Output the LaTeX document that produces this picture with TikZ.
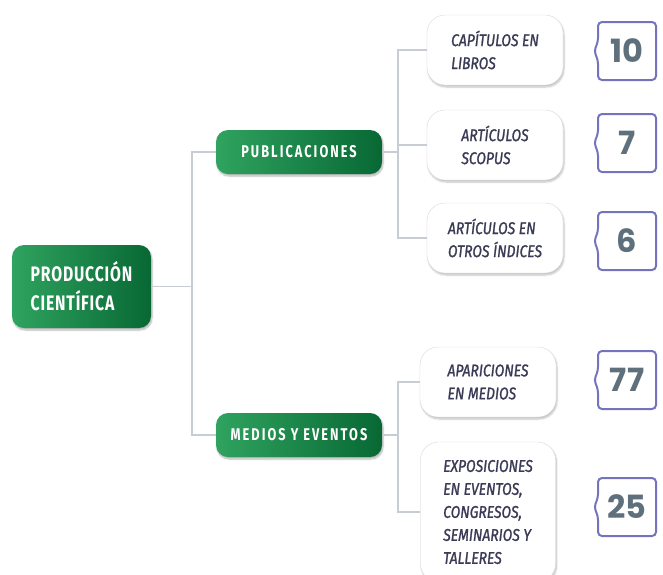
\documentclass[tikz,border=0pt]{standalone}
\usepackage{fontspec}
\usetikzlibrary{calc}
\usetikzlibrary{shadows.blur}
\newfontfamily\headfont{Fira Sans}[FakeStretch=0.75, LetterSpace=4]
\newfontfamily\subfont{Fira Sans}[FakeStretch=0.75, LetterSpace=12]
\newfontfamily\leaffont{Fira Sans}[FakeStretch=0.82, FakeBold=1.2]
\newfontfamily\numfont{Poppins}
\definecolor{greenlight}{RGB}{47,163,95}
\definecolor{greendark}{RGB}{8,104,52}
\definecolor{linkgray}{RGB}{200,205,212}
\definecolor{leafink}{RGB}{58,58,85}
\definecolor{badgeline}{RGB}{116,116,190}
\definecolor{badgeink}{RGB}{95,112,125}
\tikzset{
	greenbox/.style={rounded corners=12pt, left color=greenlight, right color=greendark, text=white,
		blur shadow={shadow xshift=1pt, shadow yshift=-2pt, shadow opacity=30, shadow blur steps=6}},
	rootbox/.style={greenbox, minimum width=139pt, minimum height=83pt, align=left,
		font=\headfont\bfseries\fontsize{21}{29}\selectfont},
	midbox/.style={greenbox, minimum width=166pt, minimum height=44pt,
		font=\subfont\bfseries\fontsize{17}{20}\selectfont},
	leafbox/.style={draw=gray!30, fill=white, rounded corners=18pt, minimum width=136pt, minimum height=70pt,
		align=left, text=leafink, font=\leaffont\itshape\fontsize{17}{23}\selectfont,
		blur shadow={shadow xshift=1pt, shadow yshift=-2pt, shadow opacity=25, shadow blur steps=6}},
	link/.style={draw=linkgray, line width=1.3pt},
	numtext/.style={text=badgeink, font=\numfont\bfseries\fontsize{32}{32}\selectfont, inner sep=0pt},
	numframe/.style={draw=badgeline, line width=2pt, rounded corners=4pt},
}
\newcommand{\numbox}[4] % name, x, y, number
{
	% number
	\node[numtext] (#1) at (#2,#3) {#4};
	% frame with brace notch on the left
	\draw[numframe] ($(#1)+(-29,-9)$) -- ($(#1)+(-29,-29)$) -- ($(#1)+(29,-29)$) -- ($(#1)+(29,29)$)
		-- ($(#1)+(-29,29)$) -- ($(#1)+(-29,9)$) -- ($(#1)+(-33,0)$) -- cycle;
}

\begin{document}
\begin{tikzpicture}[x=1pt, y=-1pt]
	\clip (0,0) rectangle (663,574);
	% branch points
	\coordinate (ja) at (192,0);
	\coordinate (jb) at (398,0);
	
	% main boxes
	\node[rootbox] (root) at (81.5,286.5) {PRODUCCIÓN\\CIENTÍFICA};
	\node[midbox] (pub) at (299,152) {PUBLICACIONES};
	\node[midbox] (med) at (299,435) {MEDIOS Y EVENTOS};
	
	% publicaciones
	\node[leafbox] (cap) at (495,50) {CAPÍTULOS EN\\LIBROS};
	\node[leafbox] (sco) at (495,145) {ARTÍCULOS\\SCOPUS};
	\node[leafbox] (otr) at (495,238) {ARTÍCULOS EN\\OTROS ÍNDICES};
	
	% medios y eventos
	\node[leafbox] (apa) at (488,382) {APARICIONES\\EN MEDIOS};
	\node[leafbox, minimum width=135pt, minimum height=140pt] (exp) at (488,512)
		{EXPOSICIONES\\EN EVENTOS,\\CONGRESOS,\\SEMINARIOS Y\\TALLERES};
	
	% tree lines
	\draw[link] (root.east) -- (root.east -| ja);
	\draw[link] (pub.west) -- (pub.west -| ja) -- (med.west -| ja) -- (med.west);
	
	\draw[link] (pub.east) -- (pub.east -| jb);
	\draw[link] (cap.west) -- (cap.west -| jb) -- (otr.west -| jb) -- (otr.west);
	\draw[link] (sco.west) -- (sco.west -| jb);
	
	\draw[link] (med.east) -- (med.east -| jb);
	\draw[link] (apa.west) -- (apa.west -| jb) -- (exp.west -| jb) -- (exp.west);
	
	% number badges
	\numbox{ncap}{627}{51}{10};
	\numbox{nsco}{627}{143}{7};
	\numbox{notr}{627}{241}{6};
	\numbox{napa}{627}{380}{77};
	\numbox{nexp}{627}{507}{25};
\end{tikzpicture}
\end{document}
